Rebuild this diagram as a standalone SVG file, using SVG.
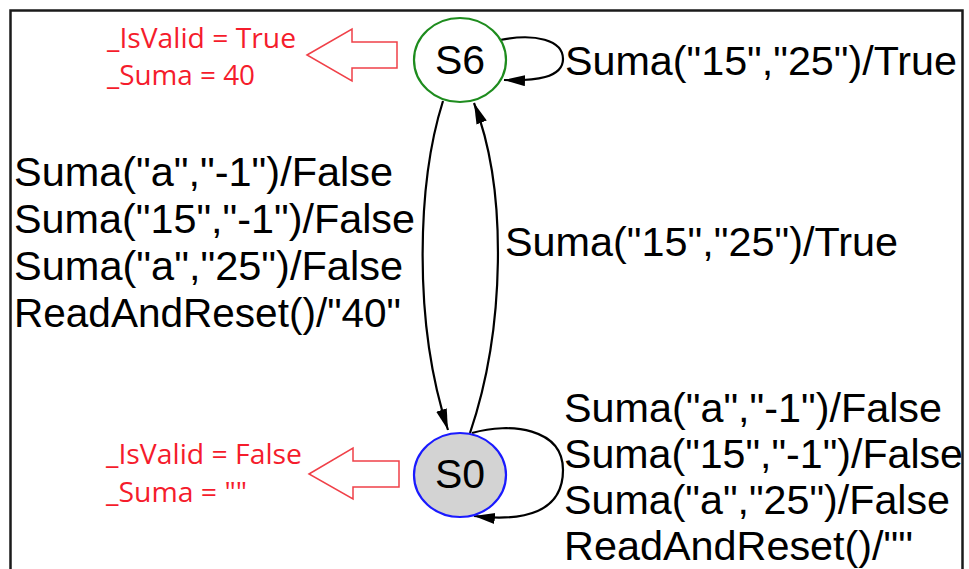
<svg xmlns="http://www.w3.org/2000/svg" width="969" height="569" viewBox="0 0 969 569">
  <style>
    .lbl { font-family: "Liberation Sans", Arial, sans-serif; font-size: 41px; fill: #000; }
    .note { font-family: "Open Sans", "Liberation Sans", Arial, sans-serif; font-size: 27.5px; fill: #f51c2c; }
    .edge { fill: none; stroke: #000; stroke-width: 2.2; }
    .hint { fill: #fff; stroke: #f04048; stroke-width: 1.5; }
  </style>
  <defs>
    <marker id="arrow" markerUnits="userSpaceOnUse" markerWidth="22" markerHeight="12" refX="21" refY="5.5" orient="auto">
      <path d="M0,0 L21,5.5 L0,11 z" fill="#000"/>
    </marker>
  </defs>

  <rect width="969" height="569" fill="#fff"/>
  <!-- outer frame -->
  <rect x="10.5" y="10.5" width="952" height="600" fill="none" stroke="#1a1a1a" stroke-width="2.5"/>

  <!-- transitions -->
  <g id="connectors">
    <path class="edge" d="M500,40 C535,33 563,40 563,59 C563,78 535,81 504,80" marker-end="url(#arrow)"/>
    <path class="edge" d="M443,101 C418,180 412,320 448,430" marker-end="url(#arrow)"/>
    <path class="edge" d="M470,433 C505,330 508,190 474,103" marker-end="url(#arrow)"/>
    <path class="edge" d="M472,433 C510,422 563,428 563,470 C563,512 525,522 474,516" marker-end="url(#arrow)"/>
  </g>

  <!-- transition labels -->
  <g id="labels">
    <text class="lbl" x="565" y="75" textLength="392" lengthAdjust="spacingAndGlyphs">Suma("15","25")/True</text>
    <text class="lbl" x="505" y="256" textLength="393" lengthAdjust="spacingAndGlyphs">Suma("15","25")/True</text>
    <text class="lbl" x="14" y="186" textLength="379" lengthAdjust="spacingAndGlyphs">Suma("a","-1")/False</text>
    <text class="lbl" x="14" y="233" textLength="401" lengthAdjust="spacingAndGlyphs">Suma("15","-1")/False</text>
    <text class="lbl" x="14" y="280" textLength="389" lengthAdjust="spacingAndGlyphs">Suma("a","25")/False</text>
    <text class="lbl" x="14" y="327" textLength="387" lengthAdjust="spacingAndGlyphs">ReadAndReset()/"40"</text>
    <text class="lbl" x="564" y="422" textLength="378" lengthAdjust="spacingAndGlyphs">Suma("a","-1")/False</text>
    <text class="lbl" x="564" y="468" textLength="399" lengthAdjust="spacingAndGlyphs">Suma("15","-1")/False</text>
    <text class="lbl" x="564" y="514" textLength="386" lengthAdjust="spacingAndGlyphs">Suma("a","25")/False</text>
    <text class="lbl" x="564" y="560" textLength="349" lengthAdjust="spacingAndGlyphs">ReadAndReset()/""</text>
  </g>

  <!-- state S6 -->
  <g id="S6">
    <ellipse cx="460" cy="60" rx="46" ry="42" fill="#fff" stroke="#1e8c1e" stroke-width="2.2"/>
    <text class="lbl" x="460" y="74" text-anchor="middle">S6</text>
  </g>

  <!-- state S0 -->
  <g id="S0">
    <ellipse cx="460" cy="475" rx="46" ry="42" fill="#d3d3d3" stroke="#1a1aff" stroke-width="2.2"/>
    <text class="lbl" x="460" y="488" text-anchor="middle">S0</text>
  </g>

  <!-- state variable notes -->
  <g id="note-S6">
    <polygon class="hint" points="307,55 352,29 352,42 397,42 397,68 352,68 352,81"/>
    <text class="note" x="107" y="48" textLength="189" lengthAdjust="spacingAndGlyphs">_IsValid = True</text>
    <text class="note" x="107" y="85" textLength="148" lengthAdjust="spacingAndGlyphs">_Suma = 40</text>
  </g>
  <g id="note-S0">
    <polygon class="hint" points="309,474 353,448 353,461 399,461 399,487 353,487 353,499"/>
    <text class="note" x="106" y="464" textLength="196" lengthAdjust="spacingAndGlyphs">_IsValid = False</text>
    <text class="note" x="106" y="502" textLength="141" lengthAdjust="spacingAndGlyphs">_Suma = ""</text>
  </g>
</svg>
